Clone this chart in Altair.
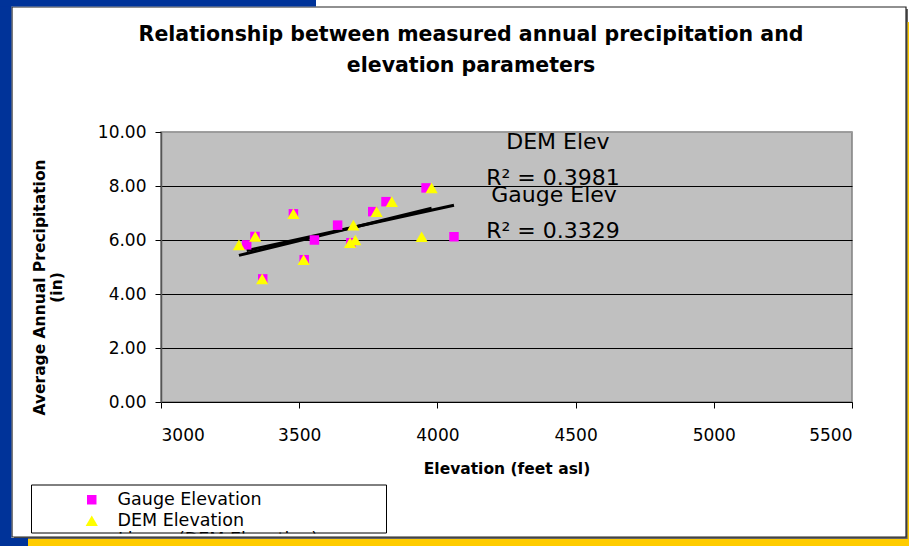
import altair as alt
import pandas as pd

# ---------------- data ----------------
precip = [5.82, 6.13, 6.97, 5.27, 4.56, 6.00, 6.55, 5.90, 7.05, 7.42, 7.93, 6.12]
gauge_elev = [3310, 3340, 3479, 3518, 3368, 3555, 3639, 3687, 3766, 3814, 3959, 4060]
dem_elev = [3282, 3341, 3479, 3516, 3366, 3703, 3696, 3684, 3780, 3835, 3979, 3943]
series_names = ["Gauge Elevation", "DEM Elevation"]
series_colors = ["#FF00FF", "#FFFF00"]
series_shapes = ["square", "triangle-up"]
x_ticks = [3000, 3500, 4000, 4500, 5000, 5500]
y_ticks = [0, 2, 4, 6, 8, 10]
annot_labels = ["DEM Elev", "R² = 0.3981", "Gauge Elev", "R² = 0.3329"]
annot_elev = [4436, 4418, 4422, 4418]
annot_precip = [9.63, 8.29, 7.66, 6.32]
title_lines = ["Relationship between measured annual precipitation and", "elevation parameters"]
x_title = "Elevation (feet asl)"
y_title = ["Average Annual Precipitation", "(in)"]
clipped_legend_entry = "Linear (DEM Elevation)"

n = len(precip)
df = pd.DataFrame({
    "series": [series_names[0]] * n + [series_names[1]] * n,
    "elev": gauge_elev + dem_elev,
    "precip": precip + precip,
})
ann = pd.DataFrame({"label": annot_labels, "elev": annot_elev, "precip": annot_precip})

FONT = "DejaVu Sans"
W, H = 691, 270
PAD = {"left": 161, "top": 132, "right": 57, "bottom": 144}
L, T = PAD["left"], PAD["top"]

xs = alt.Scale(domain=[3000, 5500], nice=False, zero=False)
ys = alt.Scale(domain=[0, 10], nice=False)

x_axis = alt.Axis(
    values=x_ticks, format="d", title=x_title, grid=False,
    domainColor="black", domainWidth=1, tickColor="black", tickSize=6,
    labelFont=FONT, labelFontSize=17, labelColor="black", labelPadding=19,
    titleFont=FONT, titleFontSize=15.5, titleFontWeight="bold", titleColor="black",
    titleY=66, titleBaseline="middle",
)
y_axis = alt.Axis(
    values=y_ticks, format=".2f", title=y_title, grid=True,
    gridColor={"condition": {"test": "datum.value >= 10", "value": "#9a9a9a"}, "value": "black"},
    gridWidth=1,
    domainColor="#555555", domainWidth=1.5, tickColor="black", tickSize=6,
    labelFont=FONT, labelFontSize=17, labelColor="black", labelPadding=9,
    titleFont=FONT, titleFontSize=15.5, titleFontWeight="bold", titleColor="black",
    titleLineHeight=17, titleX=-129, titleY=155, titleAngle=-90,
    titleAlign="center", titleBaseline="top",
)

legend = alt.Legend(
    orient="none", legendX=-78, legendY=359, title=None, padding=0,
    labelFont=FONT, labelFontSize=17.5, labelColor="black", labelOffset=17,
    symbolSize=110, symbolStrokeWidth=0, rowPadding=2, direction="vertical",
)

points = alt.Chart(df).mark_point(filled=True, opacity=1, strokeWidth=0).encode(
    x=alt.X("elev:Q", scale=xs, axis=x_axis),
    y=alt.Y("precip:Q", scale=ys, axis=y_axis),
    color=alt.Color("series:N", scale=alt.Scale(domain=series_names, range=series_colors), legend=legend),
    shape=alt.Shape("series:N", scale=alt.Scale(domain=series_names, range=series_shapes), legend=legend),
    size=alt.Size("series:N", scale=alt.Scale(domain=series_names, range=[90, 150]), legend=None),
    order=alt.Order("order:Q"),
).transform_calculate(order=f"datum.series == '{series_names[0]}' ? 0 : 1")

trend = alt.Chart(df).transform_regression(
    "elev", "precip", groupby=["series"]
).mark_line(color="black", strokeWidth=3).encode(
    x=alt.X("elev:Q", scale=xs),
    y=alt.Y("precip:Q", scale=ys),
    detail="series:N",
)

labels = alt.Chart(ann).mark_text(
    font=FONT, fontSize=22, color="black", align="center", baseline="middle"
).encode(
    x=alt.X("elev:Q", scale=xs),
    y=alt.Y("precip:Q", scale=ys),
    text="label:N",
)


def deco(x1, x2, y1, y2, **kw):
    return alt.Chart(alt.Data(values=[{}])).mark_rect(**kw).encode(
        x=alt.value(x1), x2=alt.value(x2), y=alt.value(y1), y2=alt.value(y2)
    )


def deco_text(text, x, y, **kw):
    return alt.Chart(alt.Data(values=[{}])).mark_text(text=text, **kw).encode(
        x=alt.value(x), y=alt.value(y)
    )


title1 = deco_text(title_lines[0], 471 - L, 35 - T, font=FONT, fontSize=20.5, fontWeight="bold",
                   color="black", align="center", baseline="middle")
title2 = deco_text(title_lines[1], 471 - L, 66 - T, font=FONT, fontSize=20.5, fontWeight="bold",
                   color="black", align="center", baseline="middle")
third_entry = deco_text(clipped_legend_entry, 118 - L, 545 - T, font=FONT, fontSize=17.5,
                        color="black", align="left", baseline="alphabetic")
cover = deco(32 - L, 387 - L, 533.5 - T, 546 - T, color="white")
legend_box = deco(31.5 - L, 386.5 - L, 485 - T, 533 - T, fillOpacity=0, stroke="black", strokeWidth=1)
shadow_r = deco(906 - L, 908 - L, 9 - T, 539 - T, color="#666666")
shadow_b = deco(14 - L, 908 - L, 537 - T, 539 - T, color="#666666")
panel = deco(12 - L, 906 - L, 7 - T, 537 - T, fillOpacity=0, stroke="#222222", strokeWidth=1.2)
blue = "#003399"
yellow = "#FFCC00"
blue_left = deco(0 - L, 11.4 - L, 0 - T, 546 - T, color=blue)
blue_top = deco(0 - L, 316 - L, 0 - T, 6.4 - T, color=blue)
blue_bot = deco(0 - L, 28 - L, 538 - T, 546 - T, color=blue)
yel_right = deco(907.6 - L, 909 - L, 22 - T, 546 - T, color=yellow)
yel_bot = deco(28 - L, 909 - L, 539 - T, 546 - T, color=yellow)

chart = alt.layer(
    trend, points, labels, title1, title2, third_entry, cover, legend_box,
    shadow_r, shadow_b, panel,
    blue_left, blue_top, blue_bot, yel_right, yel_bot,
).properties(
    width=W, height=H,
    autosize=alt.AutoSizeParams(type="none"),
    padding=PAD,
    background="white",
).configure_view(
    fill="#C0C0C0", stroke="#808080", strokeWidth=1.5
)

chart.save("out.html", embed_options={"renderer": "svg", "actions": False})
